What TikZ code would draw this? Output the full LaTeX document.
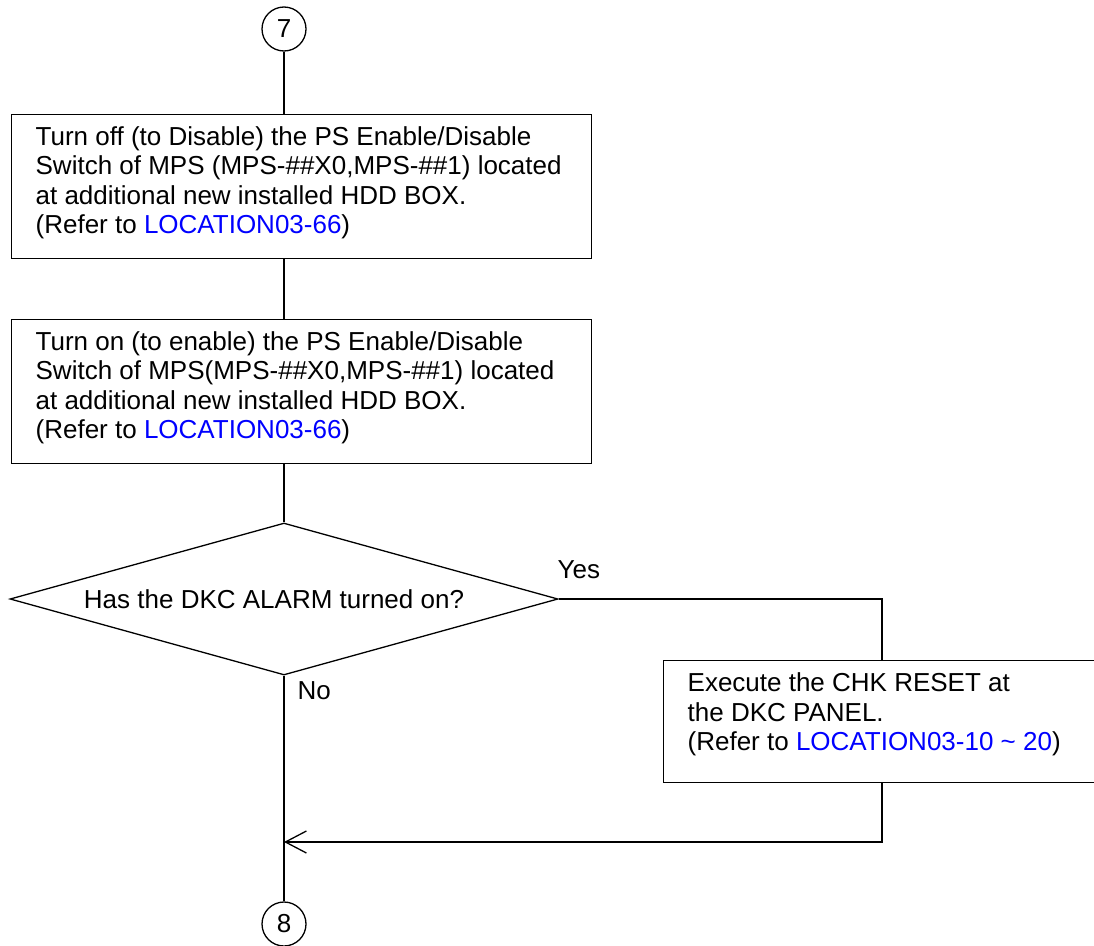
\documentclass[tikz,border=0pt]{standalone}
\usepackage{fontspec}
\setmainfont{Liberation Sans}
\usepackage{xcolor}
\usetikzlibrary{arrows.meta,shapes.geometric}
\definecolor{linkblue}{HTML}{0000FF}

\newcommand{\flowtext}[3]{\parbox[c][#1][t]{#2}{\raggedright #3}}

\begin{document}
\begin{tikzpicture}[x=1pt,y=-1pt,
    line width=1.3pt,
    font=\fontsize{26}{29.5}\selectfont,
    connector/.style={circle, draw, minimum size=44pt, inner sep=0pt},
    stepbox/.style={draw, rectangle, anchor=north west, inner xsep=24pt, inner ysep=12pt},
    decision/.style={diamond, draw, minimum width=548pt, minimum height=152pt, inner sep=0pt},
    ]
    \useasboundingbox (0,0) rectangle (1094,945);

    \node[connector] (c7) at (284,29) {7};
    \node[stepbox] (b1) at (11,114) {\flowtext{120pt}{532pt}{Turn off (to Disable) the PS Enable/Disable\\
        Switch of MPS (MPS-\#\#X0,MPS-\#\#1) located\\
        at additional new installed HDD BOX.\\
        (Refer to \textcolor{linkblue}{LOCATION03-66})}};
    \node[stepbox] (b2) at (11,319) {\flowtext{120pt}{532pt}{Turn on (to enable) the PS Enable/Disable\\
        Switch of MPS(MPS-\#\#X0,MPS-\#\#1) located\\
        at additional new installed HDD BOX.\\
        (Refer to \textcolor{linkblue}{LOCATION03-66})}};
    \node[decision] (dec) at (284,599) {\makebox[0pt]{\raisebox{-0.36em}[0pt][0pt]{\hspace*{-20pt}Has the DKC ALARM turned on?}}};
    \node[stepbox] (b3) at (663,660) {\flowtext{98pt}{400pt}{Execute the CHK RESET at\\
        the DKC PANEL.\\
        (Refer to \textcolor{linkblue}{LOCATION03-10 \textasciitilde{} 20})}};
    \node[connector] (c8) at (284,924) {8};
    \coordinate (join) at (882,842);

    \node[anchor=west, inner sep=0pt] (yes) at (557,570) {Yes};
    \node[anchor=west, inner sep=0pt] (no) at (297,691) {No};

    \draw (c7) -- (c7 |- b1.north);
    \draw (c7 |- b1.south) -- (c7 |- b2.north);
    \draw (c7 |- b2.south) -- (dec.north);
    \draw (dec.east) -| (b3.north -| join);
    \draw[-{Straight Barb[length=21pt,width=22pt]}] (b3.south -| join) -- (join) -- (join -| c8);
    \draw (dec.south) -- (c8);
\end{tikzpicture}
\end{document}
